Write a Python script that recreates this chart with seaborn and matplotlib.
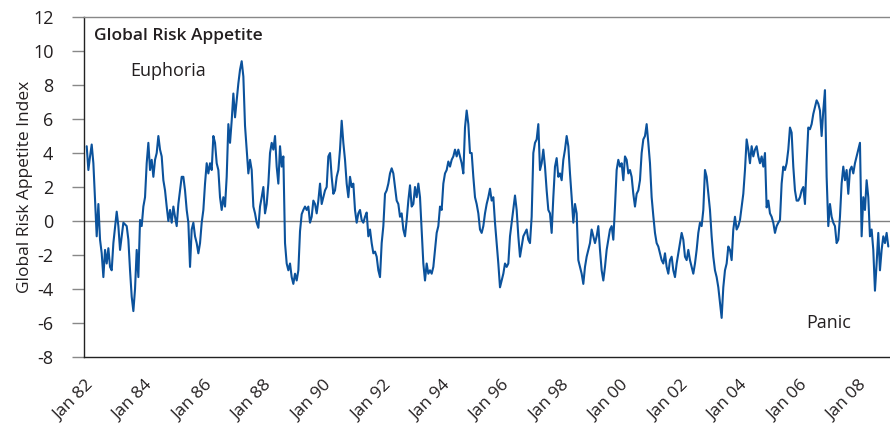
import pandas as pd
import matplotlib
matplotlib.use("Agg")
import matplotlib.pyplot as plt
import matplotlib.transforms as mtransforms
import seaborn as sns

# index values, one reading every ~3 weeks
risk_1982_86 = [4.4, 3.0, 3.8, 4.5, 3.4, 1.2, -0.9, 1.0, -1.1, -1.9,
                -3.3, -1.7, -2.5, -1.6, -2.7, -2.9, -1.3, -0.4, 0.55, -0.3,
                -1.7, -0.9, -0.1, -0.2, -0.3, -1.1, -2.9, -4.45, -5.3, -4.0,
                -1.7, -3.3, 0.06, -0.3, 0.85, 1.4, 3.4, 4.6, 3.0, 3.6,
                2.6, 3.6, 4.0, 5.0, 4.2, 3.8, 2.4, 1.8, 0.85, 0.0,
                0.65, -0.1, 0.85, 0.25, -0.3, 1.0, 1.8, 2.6, 2.6, 1.8,
                0.65, -0.1, -2.7, -0.5, -0.1, -0.9, -1.3, -1.9, -1.3, -0.1,
                0.65, 2.2, 3.4, 2.8, 3.4, 3.0, 5.0, 4.6, 3.4, 3.0,
                1.4, 0.65, 1.4, 0.85, 2.6]
risk_1986_91 = [5.7, 4.6, 5.9, 7.5, 6.1, 7.1, 8.1, 8.9, 9.4, 8.5,
                5.6, 4.2, 2.8, 3.6, 3.0, 0.85, 0.45, -0.1, -0.4, 0.85,
                1.4, 2.0, 0.45, 1.0, 2.2, 4.0, 4.6, 4.2, 5.0, 3.2,
                2.2, 4.4, 3.2, 3.8, -1.3, -2.5, -2.9, -2.5, -3.3, -3.7,
                -3.1, -3.5, -2.9, -0.6, 0.4, 0.65, 0.85, 0.65, 0.85, -0.1,
                0.25, 1.2, 1.0, 0.45, 1.2, 2.2, 1.0, 1.4, 1.8, 2.0,
                3.8, 4.0, 2.6, 1.6, 1.8, 2.6, 3.0, 4.2, 5.9, 4.6,
                3.6, 2.2, 1.4, 2.6, 2.0, 2.2, 0.65, -0.1, 0.45]
risk_1991_96 = [0.65, 0.06, -0.1, 0.25, 0.5, -0.9, -0.5, -1.3, -1.9, -1.8,
                -2.1, -2.9, -3.3, -1.3, -0.3, 1.6, 1.8, 2.2, 2.8, 3.1,
                2.8, 2.0, 1.2, 1.0, 0.25, 0.45, -0.5, -0.9, 0.06, 1.2,
                2.1, 0.85, 1.0, 2.0, 1.4, 2.2, 1.4, -0.5, -2.5, -3.5,
                -2.5, -3.1, -2.9, -3.1, -2.7, -1.7, -0.7, -0.3, 0.85, 0.65,
                2.2, 2.8, 3.0, 3.5, 3.2, 3.6, 3.8, 4.2, 3.8, 4.2,
                3.8, 3.4, 2.8, 5.5, 6.5, 5.7, 4.0, 4.0, 2.6, 1.4,
                1.0, 0.45, -0.5, -0.7, -0.3, 0.45, 1.0, 1.4, 1.9, 1.2,
                1.4, -0.1, -1.3, -2.5]
risk_1996_01 = [-3.9, -3.5, -3.1, -2.5, -2.7, -2.5, -0.9, -0.1, 0.65, 1.5,
                0.65, -0.9, -2.1, -1.5, -0.9, -0.7, -0.5, -1.1, -1.3, 0.25,
                4.0, 4.6, 4.8, 5.7, 3.0, 3.4, 4.2, 3.2, 1.8, 0.65,
                0.45, -0.7, 1.4, 3.2, 3.7, 2.6, 2.8, 2.4, 3.6, 4.2,
                5.0, 4.4, 2.8, 1.4, -0.1, 1.0, 0.45, -2.3, -2.7, -3.1,
                -3.7, -2.7, -2.1, -1.7, -1.3, -0.5, -0.9, -1.3, -0.9, -0.3,
                -1.7, -2.9, -3.5, -2.7, -1.7, -1.1, -0.5, -0.3, -1.1, 0.85,
                3.0, 3.6, 3.2, 3.4, 2.4, 3.8, 3.6, 2.8, 3.0, 2.6,
                1.6, 0.85, 1.6, 1.8]
risk_2001_05 = [2.4, 4.0, 4.8, 5.0, 5.7, 4.6, 3.4, 1.4, 0.3, -0.7,
                -1.3, -1.5, -1.9, -2.3, -2.5, -1.9, -2.7, -3.1, -2.3, -2.1,
                -2.9, -3.3, -2.5, -1.9, -1.3, -0.7, -1.1, -2.1, -2.3, -1.7,
                -2.3, -2.7, -3.1, -2.5, -1.7, -0.7, -0.1, -0.3, 0.65, 3.0,
                2.6, 1.6, 0.65, -0.9, -2.1, -2.9, -3.3, -3.9, -4.8, -5.7,
                -3.9, -2.9, -2.5, -1.5, -1.7, -2.3, -0.5, 0.25, -0.5, -0.3,
                0.06, 0.85, 1.6, 3.0, 4.8, 4.2, 3.4, 4.4, 3.8, 4.2,
                4.4, 3.8]
risk_2005_08 = [3.4, 3.8, 3.2, 4.0, 0.8, 1.2, 0.45, 0.25, -0.1, -0.7,
                -0.3, -0.1, 0.06, 2.2, 3.2, 3.0, 3.4, 4.2, 5.5, 5.2,
                3.2, 1.8, 1.2, 1.2, 1.4, 1.8, 2.0, 1.0, 3.4, 5.5,
                5.4, 5.7, 6.3, 6.7, 7.1, 6.9, 6.5, 5.0, 6.5, 7.7,
                2.6, -0.3, 1.0, 0.25, -0.1, -0.3, -1.3, -1.1, 0.25, 2.2,
                3.2, 2.4, 3.0, 1.6, 3.0, 3.2, 2.8, 3.4, 3.8, 4.2,
                4.6, -0.9, 1.4, 0.65, 2.4, 1.4, -0.9, -0.5, -1.7, -4.1,
                -2.5, -0.7, -2.9, -1.7, -0.9, -1.3, -0.7, -1.5]

first_date = "1981-11-08"
last_date = "2008-10-19"
tick_years = [1982, 1984, 1986, 1988, 1990, 1992, 1994, 1996, 1998,
              2000, 2002, 2004, 2006, 2008]
tick_labels = ["Jan 82", "Jan 84", "Jan 86", "Jan 88", "Jan 90", "Jan 92", "Jan 94",
               "Jan 96", "Jan 98", "Jan 00", "Jan 02", "Jan 04", "Jan 06", "Jan 08"]

values = (risk_1982_86 + risk_1986_91 + risk_1991_96 +
          risk_1996_01 + risk_2001_05 + risk_2005_08)
df = pd.DataFrame({
    "date": pd.date_range(first_date, last_date, periods=len(values)),
    "index": values,
})

sns.set_style("white")
plt.rcParams["font.family"] = ["Open Sans", "DejaVu Sans"]
plt.rcParams["axes.unicode_minus"] = False
text_col = "#231f20"

fig = plt.figure(figsize=(8.9, 4.26), dpi=100)
ax = fig.add_axes([0.0944, 0.162, 0.9056, 0.798])

sns.lineplot(data=df, x="date", y="index", ax=ax, color="#0b529c", linewidth=1.5)
ax.axhline(0, color="#808080", linewidth=1.0, zorder=1)

ax.set_ylim(-8, 12)
ax.set_yticks(range(-8, 13, 2))
ax.set_xlim(pd.Timestamp("1981-10-06"), pd.Timestamp("2008-11-09"))
ax.set_xticks([pd.Timestamp(f"{y}-01-01") for y in tick_years])
ax.set_xticklabels(tick_labels, rotation=45, ha="right", rotation_mode="anchor")

ax.tick_params(axis="x", length=0, pad=15, labelsize=12.5, labelcolor=text_col)
ax.tick_params(axis="y", left=True, direction="out", length=9, width=1,
               color="#888888", pad=13, labelsize=13, labelcolor=text_col)

# nudge rotated date labels a little to the left
shift = mtransforms.ScaledTranslation(-4 / 72, 0, fig.dpi_scale_trans)
for lbl in ax.get_xticklabels():
    lbl.set_transform(lbl.get_transform() + shift)

ax.set_xlabel("")
ax.set_ylabel("Global Risk Appetite Index", fontsize=12.5, color=text_col, labelpad=0)

for side in ["left", "bottom"]:
    ax.spines[side].set_color("#222222")
    ax.spines[side].set_linewidth(1.0)
ax.spines["top"].set_color("#888888")
ax.spines["top"].set_linewidth(1.0)
ax.spines["right"].set_visible(False)

ax.text(0.013, 0.944, "Global Risk Appetite", transform=ax.transAxes,
        fontsize=12.5, fontweight="semibold", color=text_col, va="center")
ax.text(0.057, 0.841, "Euphoria", transform=ax.transAxes,
        fontsize=13, color=text_col, va="center")
ax.text(0.896, 0.10, "Panic", transform=ax.transAxes,
        fontsize=13, color=text_col, va="center")

plt.savefig("out.png", dpi=100)
plt.close()
